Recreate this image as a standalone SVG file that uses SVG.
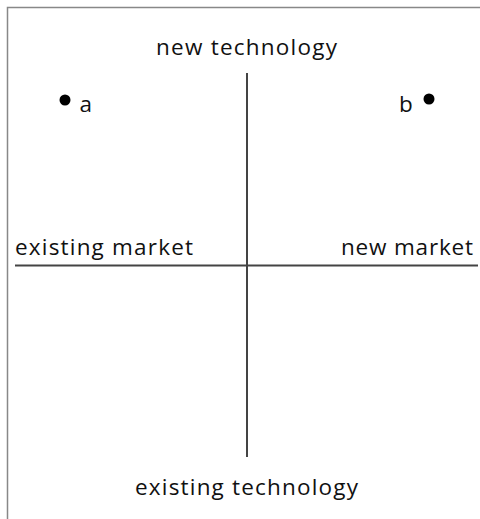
<svg xmlns="http://www.w3.org/2000/svg" width="480" height="519" viewBox="0 0 480 519">
  <style>
    .lbl { font-family: "Open Sans", "Noto Sans", sans-serif; font-size: 22.5px; fill: #111; }
    .axis { stroke: #444; stroke-width: 2; fill: none; }
    .frame { stroke: #888; stroke-width: 1.5; fill: none; }
    .pt { fill: #000; }
  </style>
  <rect width="480" height="519" fill="#fff"/>
  <!-- outer frame, open to the right and bottom -->
  <path class="frame" d="M7.5,519 V7.5 H480"/>

  <g id="connectors">
    <line class="axis" x1="15" y1="265.5" x2="478" y2="265.5"/>
    <line class="axis" x1="247" y1="73" x2="247" y2="457"/>
  </g>

  <g id="new-technology">
    <text class="lbl" x="156" y="55" textLength="181" lengthAdjust="spacing">new technology</text>
  </g>
  <g id="existing-technology">
    <text class="lbl" x="135" y="495" textLength="223" lengthAdjust="spacing">existing technology</text>
  </g>
  <g id="existing-market">
    <text class="lbl" x="15" y="255" textLength="178" lengthAdjust="spacing">existing market</text>
  </g>
  <g id="new-market">
    <text class="lbl" x="341" y="255" textLength="132" lengthAdjust="spacing">new market</text>
  </g>
  <g id="point-a">
    <circle class="pt" cx="65" cy="100" r="5.5"/>
    <text class="lbl" x="79.5" y="112">a</text>
  </g>
  <g id="point-b">
    <circle class="pt" cx="429" cy="99" r="5.5"/>
    <text class="lbl" x="399" y="112">b</text>
  </g>
</svg>
